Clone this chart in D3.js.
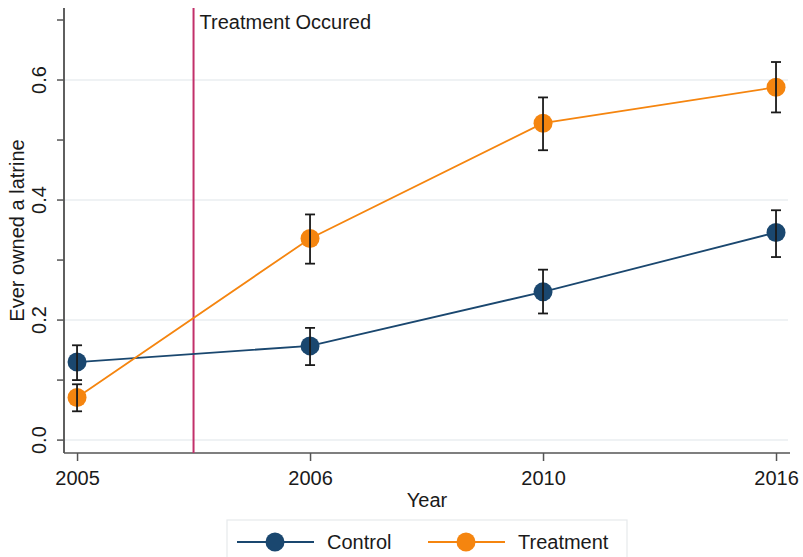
<!DOCTYPE html>
<html>
<head>
<meta charset="utf-8">
<script src="https://cdn.jsdelivr.net/npm/d3@7"></script>
<style>
  body { margin: 0; background: #fff; }
  text { font-family: "Liberation Sans", Arial, sans-serif; fill: #1a1a1a; }
</style>
</head>
<body>
<div class="chart"></div>
<script>
// data
const years = ["2005", "2006", "2010", "2016"];
const controlMean = [0.130, 0.157, 0.247, 0.346];
const controlLow  = [0.100, 0.125, 0.211, 0.305];
const controlHigh = [0.158, 0.187, 0.284, 0.383];
const treatMean = [0.071, 0.336, 0.528, 0.588];
const treatLow  = [0.048, 0.294, 0.483, 0.546];
const treatHigh = [0.093, 0.376, 0.571, 0.630];
const yMajor = [0, 0.2, 0.4, 0.6];
const yMinor = [0.1, 0.3, 0.5, 0.7];
const treatmentAt = 0.5; // between 2005 and 2006

const series = [
  { name: "Control", color: "#1a476f", mean: controlMean, lo: controlLow, hi: controlHigh },
  { name: "Treatment", color: "#f5850f", mean: treatMean, lo: treatLow, hi: treatHigh }
];

const W = 803, H = 557;
const plotL = 64, plotR = 790, plotT = 8, plotB = 453;

const svg = d3.select(".chart").append("svg")
  .attr("width", W).attr("height", H);

// x is an index scale so the years sit evenly
const x = d3.scaleLinear().domain([-0.056, 3.06]).range([plotL, plotR]);
const y = d3.scaleLinear().domain([-0.0215, 0.72]).range([plotB, plotT]);

// gridlines
svg.append("g").selectAll("line").data(yMajor).join("line")
  .attr("x1", plotL).attr("x2", plotR - 2)
  .attr("y1", d => y(d)).attr("y2", d => y(d))
  .attr("stroke", "#eaeef1").attr("stroke-width", 1.5);

// y axis
const yAxis = svg.append("g").attr("transform", `translate(${plotL},0)`)
  .call(d3.axisLeft(y).tickValues(yMajor).tickSize(7).tickFormat(d3.format(".1f")));
yAxis.append("g").call(d3.axisLeft(y).tickValues(yMinor).tickSize(7).tickFormat(""));
yAxis.selectAll(".domain").attr("d", `M0,${plotT}V${plotB}`);
yAxis.selectAll("path, line").attr("stroke", "#555").attr("stroke-width", 1.5);
yAxis.selectAll(".tick").attr("transform", null);
yAxis.selectAll(".tick line").attr("y1", d => y(d)).attr("y2", d => y(d));
yAxis.selectAll(".tick text")
  .attr("font-size", 20).attr("fill", "#1a1a1a")
  .attr("x", 0).attr("y", 0).attr("dy", null)
  .attr("text-anchor", "middle")
  .attr("transform", d => `translate(-18,${y(d)}) rotate(-90)`);

// x axis
const xAxis = svg.append("g").attr("transform", `translate(0,${plotB})`)
  .call(d3.axisBottom(x).tickValues(d3.range(years.length)).tickSize(8)
    .tickFormat(i => years[i]));
xAxis.selectAll(".domain").attr("d", `M${plotL},0H${plotR}`);
xAxis.selectAll("path, line").attr("stroke", "#555").attr("stroke-width", 1.5);
xAxis.selectAll("text").attr("font-size", 20).attr("fill", "#1a1a1a").attr("y", 18);

// axis titles
svg.append("text").attr("transform", `translate(24,${(plotT + plotB) / 2}) rotate(-90)`)
  .attr("text-anchor", "middle").attr("font-size", 20).text("Ever owned a latrine");
svg.append("text").attr("x", (plotL + plotR) / 2).attr("y", 507)
  .attr("text-anchor", "middle").attr("font-size", 20).text("Year");

// treatment line
svg.append("line")
  .attr("x1", x(treatmentAt)).attr("x2", x(treatmentAt))
  .attr("y1", plotT).attr("y2", plotB)
  .attr("stroke", "#c2306a").attr("stroke-width", 2);
svg.append("text").attr("x", x(treatmentAt) + 6).attr("y", 29)
  .attr("font-size", 20).text("Treatment Occured");

const line = d3.line().x((d, i) => x(i)).y(d => y(d));

series.forEach(s => {
  svg.append("path").datum(s.mean)
    .attr("d", line).attr("fill", "none")
    .attr("stroke", s.color).attr("stroke-width", 1.8);
});

series.forEach(s => {
  const g = svg.append("g");
  g.selectAll("circle").data(s.mean).join("circle")
    .attr("cx", (d, i) => x(i)).attr("cy", d => y(d))
    .attr("r", 9.5).attr("fill", s.color);
  const eb = g.selectAll("g.err").data(s.mean.map((d, i) => i)).join("g")
    .attr("stroke", "#1a1a1a").attr("stroke-width", 1.8);
  eb.append("line").attr("x1", i => x(i)).attr("x2", i => x(i))
    .attr("y1", i => y(s.lo[i])).attr("y2", i => y(s.hi[i]));
  eb.append("line").attr("x1", i => x(i) - 5).attr("x2", i => x(i) + 5)
    .attr("y1", i => y(s.lo[i])).attr("y2", i => y(s.lo[i]));
  eb.append("line").attr("x1", i => x(i) - 5).attr("x2", i => x(i) + 5)
    .attr("y1", i => y(s.hi[i])).attr("y2", i => y(s.hi[i]));
});

// legend
const lg = svg.append("g");
lg.append("rect").attr("x", 227).attr("y", 520).attr("width", 400).attr("height", 50)
  .attr("fill", "#fff").attr("stroke", "#e6e9ec").attr("stroke-width", 1.2);
const itemX = [237, 428];
series.forEach((s, k) => {
  const gx = itemX[k], gy = 542;
  lg.append("line").attr("x1", gx).attr("x2", gx + 77).attr("y1", gy).attr("y2", gy)
    .attr("stroke", s.color).attr("stroke-width", 2);
  lg.append("circle").attr("cx", gx + 38).attr("cy", gy).attr("r", 9.5).attr("fill", s.color);
  lg.append("text").attr("x", gx + 90).attr("y", gy + 7).attr("font-size", 20).text(s.name);
});
</script>
</body>
</html>
